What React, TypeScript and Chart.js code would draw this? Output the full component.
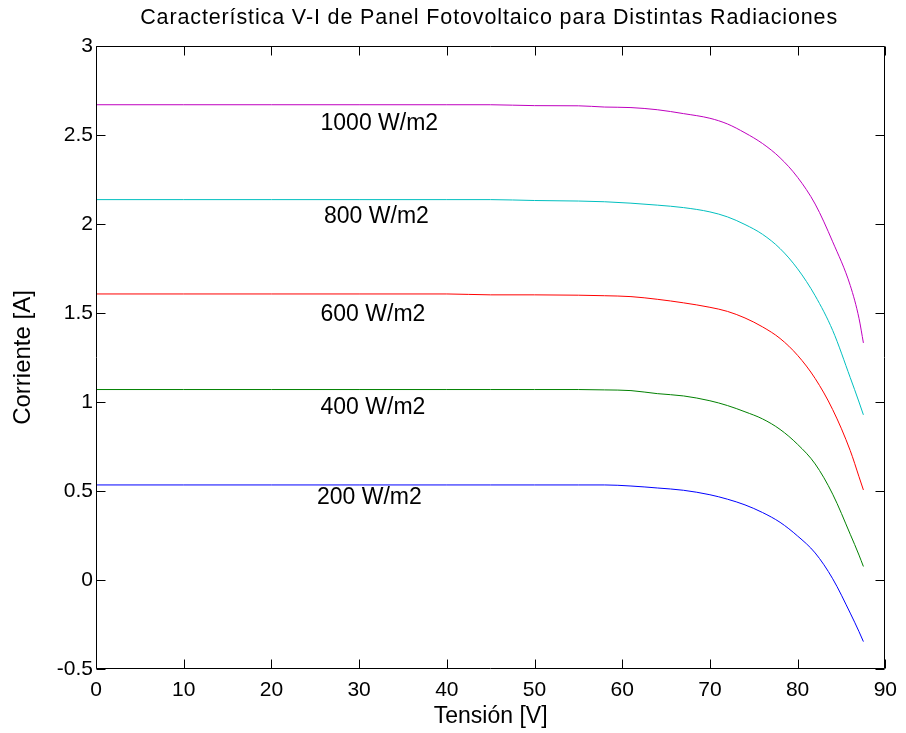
import { useEffect, useRef } from "react";
import { Chart, registerables } from "chart.js";

Chart.register(...registerables);

const titleText = "Característica V-I de Panel Fotovoltaico para Distintas Radiaciones";
const xTitle = "Tensión [V]";
const yTitle = "Corriente [A]";

const voltage = [0, 10, 20, 30, 40, 45, 50, 55, 58, 61, 64, 67, 70, 72, 74, 76, 78, 80, 82, 84, 86, 87, 87.5];

const current200 = [0.534, 0.534, 0.534, 0.534, 0.534, 0.534, 0.534, 0.534, 0.534, 0.528, 0.517, 0.504, 0.479, 0.454, 0.422, 0.379, 0.324, 0.247, 0.152, 0.007, -0.186, -0.29, -0.346];
const current400 = [1.07, 1.07, 1.07, 1.07, 1.07, 1.07, 1.07, 1.07, 1.068, 1.064, 1.047, 1.034, 1.007, 0.98, 0.945, 0.905, 0.846, 0.762, 0.652, 0.482, 0.257, 0.14, 0.076];
const current600 = [1.607, 1.607, 1.607, 1.607, 1.607, 1.602, 1.602, 1.6, 1.597, 1.592, 1.577, 1.557, 1.532, 1.509, 1.472, 1.422, 1.357, 1.262, 1.132, 0.957, 0.727, 0.58, 0.506];
const current800 = [2.137, 2.137, 2.137, 2.137, 2.137, 2.137, 2.132, 2.129, 2.125, 2.117, 2.106, 2.092, 2.068, 2.04, 1.997, 1.942, 1.862, 1.748, 1.597, 1.402, 1.137, 1.0, 0.928];
const current1000 = [2.67, 2.67, 2.67, 2.67, 2.67, 2.67, 2.665, 2.664, 2.657, 2.654, 2.642, 2.62, 2.594, 2.562, 2.512, 2.452, 2.372, 2.262, 2.112, 1.9, 1.655, 1.47, 1.332];

const seriesNames = ["200 W/m2", "400 W/m2", "600 W/m2", "800 W/m2", "1000 W/m2"];
const seriesCurrents = [current200, current400, current600, current800, current1000];
const seriesColors = ["#0000ff", "#008000", "#ff0000", "#00bfbf", "#bf00bf"];

const labelTexts = ["200 W/m2", "400 W/m2", "600 W/m2", "800 W/m2", "1000 W/m2"];
const labelV = [25.2, 25.6, 25.6, 26.0, 25.6];
const labelI = [0.462, 0.966, 1.493, 2.044, 2.566];

const xMin = 0, xMax = 90, xStep = 10;
const yMin = -0.5, yMax = 3, yStep = 0.5;

const FONT = '"Liberation Sans", Arial, sans-serif';

const framePlugin = {
  id: "matlabFrame",
  afterDatasetsDraw(chart: any) {
    const { ctx, chartArea, scales } = chart;
    const L = Math.round(chartArea.left) + 0.5;
    const R = Math.round(chartArea.right) - 0.5;
    const T = Math.round(chartArea.top) + 0.5;
    const B = Math.round(chartArea.bottom) - 0.5;
    const tl = 9;
    ctx.save();
    ctx.strokeStyle = "#000";
    ctx.lineWidth = 1;
    ctx.beginPath();
    ctx.rect(L, T, R - L, B - T);
    for (let v = xMin; v <= xMax + 1e-9; v += xStep) {
      const px = Math.round(scales.x.getPixelForValue(v)) + 0.5;
      ctx.moveTo(px, B); ctx.lineTo(px, B - tl);
      ctx.moveTo(px, T); ctx.lineTo(px, T + tl);
    }
    for (let v = yMin; v <= yMax + 1e-9; v += yStep) {
      const py = Math.round(scales.y.getPixelForValue(v)) + 0.5;
      ctx.moveTo(L, py); ctx.lineTo(L + tl, py);
      ctx.moveTo(R, py); ctx.lineTo(R - tl, py);
    }
    ctx.stroke();

    // curve labels
    ctx.fillStyle = "#000";
    ctx.font = `23px ${FONT}`;
    ctx.textAlign = "left";
    ctx.textBaseline = "middle";
    labelTexts.forEach((t, i) => {
      ctx.fillText(t, scales.x.getPixelForValue(labelV[i]), scales.y.getPixelForValue(labelI[i]));
    });

    // title centred over the axes
    ctx.font = `21.5px ${FONT}`;
    ctx.textAlign = "left";
    ctx.textBaseline = "alphabetic";
    const natural = ctx.measureText(titleText).width;
    const target = 697;
    let width = natural;
    if ("letterSpacing" in ctx && natural < target) {
      const ls = (target - natural) / (titleText.length - 1);
      (ctx as any).letterSpacing = `${ls}px`;
      width = target;
    }
    ctx.fillText(titleText, (chartArea.left + chartArea.right) / 2 - 2 - width / 2, 24);
    ctx.restore();
  },
};

export default function App() {
  const canvasRef = useRef<HTMLCanvasElement | null>(null);

  useEffect(() => {
    if (!canvasRef.current) return;
    const datasets = seriesNames.map((name, i) => ({
      label: name,
      data: voltage.map((v, j) => ({ x: v, y: seriesCurrents[i][j] })),
      borderColor: seriesColors[i],
      backgroundColor: seriesColors[i],
      borderWidth: 1,
      pointRadius: 0,
      cubicInterpolationMode: "monotone" as const,
      fill: false,
    }));

    const fmt = (v: any) => String(Number(Number(v).toFixed(2)));

    const chart = new Chart(canvasRef.current, {
      type: "line",
      data: { datasets },
      options: {
        animation: false,
        responsive: true,
        maintainAspectRatio: false,
        layout: { padding: { top: 46, right: 19, left: 0, bottom: 0 } },
        plugins: {
          legend: { display: false },
          tooltip: { enabled: false },
          title: { display: false },
        },
        scales: {
          x: {
            type: "linear",
            min: xMin,
            max: xMax,
            grid: { display: false, drawTicks: false },
            border: { display: false },
            ticks: { stepSize: xStep, color: "#000", font: { family: FONT, size: 21 }, padding: 9, maxRotation: 0, autoSkip: false, callback: fmt },
            title: { display: true, text: xTitle, color: "#000", font: { family: FONT, size: 23 }, padding: { top: 0, bottom: 3 } },
            afterFit(scale: any) { scale.height = 64; },
          },
          y: {
            type: "linear",
            min: yMin,
            max: yMax,
            grid: { display: false, drawTicks: false },
            border: { display: false },
            ticks: { stepSize: yStep, color: "#000", font: { family: FONT, size: 21 }, padding: 3, autoSkip: false, callback: fmt },
            title: { display: true, text: yTitle, color: "#000", font: { family: FONT, size: 24 }, padding: { top: 9, bottom: 0 } },
            afterFit(scale: any) { scale.width = 96; },
          },
        },
      },
      plugins: [framePlugin],
    });
    return () => chart.destroy();
  }, []);

  return (
    <div style={{ position: "fixed", left: 0, top: 0, width: 906, height: 733, background: "#fff" }}>
      <canvas ref={canvasRef} />
    </div>
  );
}
